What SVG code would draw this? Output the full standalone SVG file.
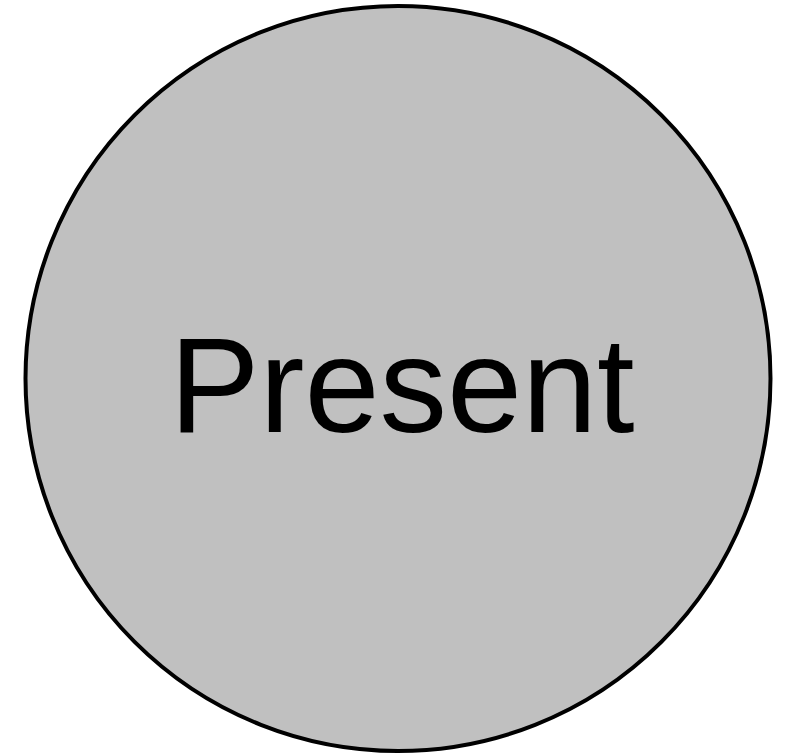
<svg xmlns="http://www.w3.org/2000/svg" width="790" height="755" viewBox="0 0 790 755">
<style>
.node{fill:#c0c0c0;stroke:#000;stroke-width:4}
.label{font-family:"Liberation Sans",Arial,sans-serif;font-size:135px;fill:#000;text-anchor:middle}
</style>
<rect width="790" height="755" fill="#fff"/>
<g id="connectors"/>
<g id="present">
<ellipse class="node" cx="398" cy="378.5" rx="372.5" ry="372.5"/>
<text class="label" x="402" y="432">Present</text>
</g>
</svg>
